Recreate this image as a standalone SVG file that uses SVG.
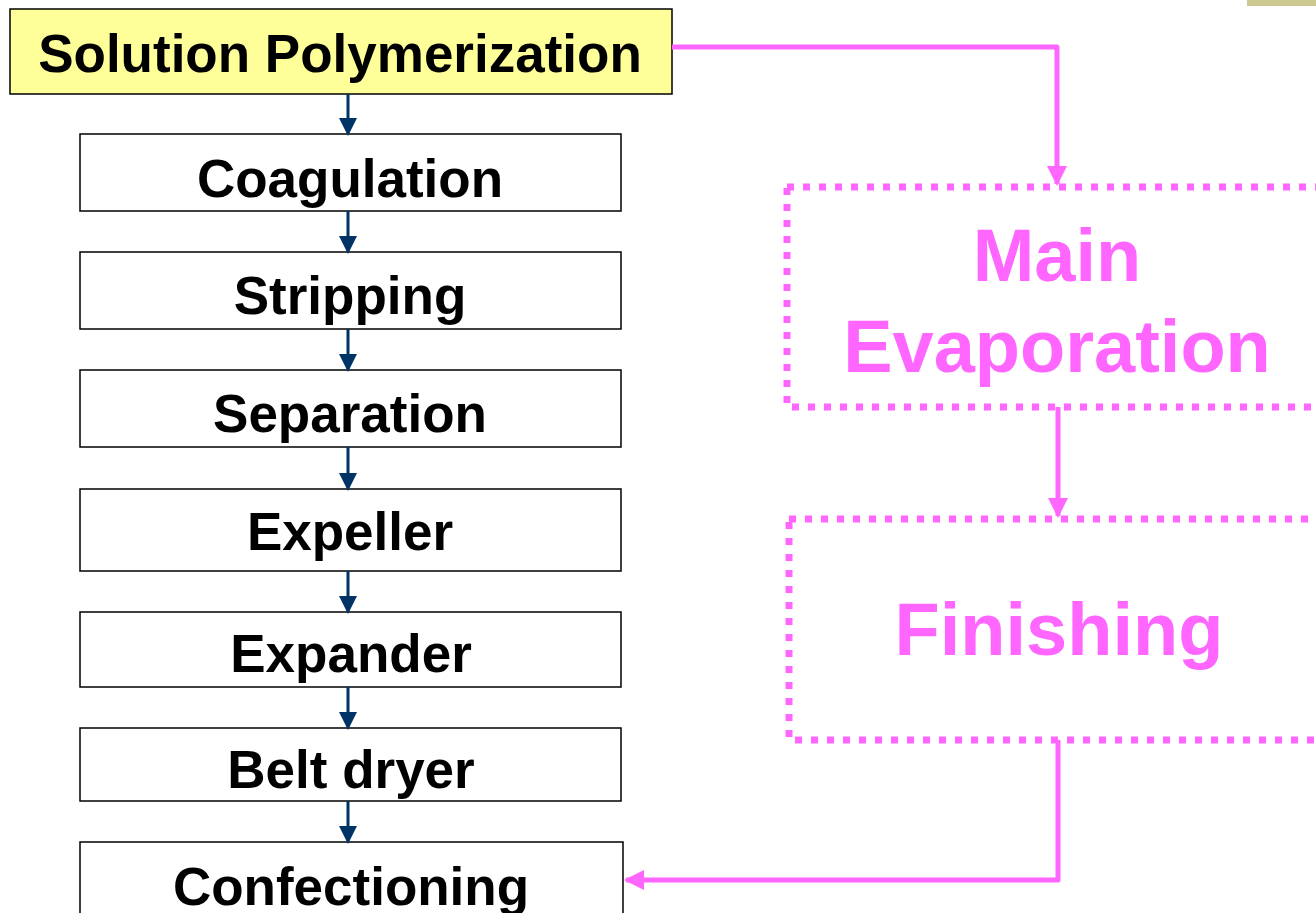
<svg xmlns="http://www.w3.org/2000/svg" width="1316" height="913" viewBox="0 0 1316 913">
<defs>
<style>
.box{fill:#fff;stroke:#000;stroke-width:1.5}
.lbl{font-family:"Liberation Sans",Arial,sans-serif;font-weight:bold;font-size:53px;fill:#000;text-anchor:middle}
.big{font-family:"Liberation Sans",Arial,sans-serif;font-weight:bold;font-size:74px;fill:#FF66FF;text-anchor:middle}
.dot{fill:none;stroke:#FF66FF;stroke-width:7;stroke-dasharray:7 9}
.blue{stroke:#003366;stroke-width:3;fill:none}
.pink{stroke:#FF66FF;stroke-width:5;fill:none;stroke-linejoin:round}
</style>
<marker id="ab" markerWidth="6" markerHeight="6" refX="5" refY="3" orient="auto" markerUnits="strokeWidth"><path d="M0,0 L6,3 L0,6 z" fill="#003366"/></marker>
<marker id="ap" markerWidth="4" markerHeight="4" refX="3.6" refY="2" orient="auto" markerUnits="strokeWidth"><path d="M0,0 L4,2 L0,4 z" fill="#FF66FF"/></marker>
</defs>
<rect x="1247" y="0" width="69" height="6" fill="#CCC993"/>
<g id="n-solution"><rect x="10" y="9" width="662" height="85" fill="#FFFF99" stroke="#000" stroke-width="1.5"/><text class="lbl" x="340" y="72">Solution Polymerization</text></g>
<g id="n-coagulation"><rect class="box" x="80" y="134" width="541" height="77"/><text class="lbl" x="350" y="197">Coagulation</text></g>
<g id="n-stripping"><rect class="box" x="80" y="252" width="541" height="77"/><text class="lbl" x="350" y="314">Stripping</text></g>
<g id="n-separation"><rect class="box" x="80" y="370" width="541" height="77"/><text class="lbl" x="350" y="432">Separation</text></g>
<g id="n-expeller"><rect class="box" x="80" y="489" width="541" height="82"/><text class="lbl" x="350" y="550">Expeller</text></g>
<g id="n-expander"><rect class="box" x="80" y="612" width="541" height="75"/><text class="lbl" x="351" y="672">Expander</text></g>
<g id="n-beltdryer"><rect class="box" x="80" y="728" width="541" height="73"/><text class="lbl" x="351" y="788">Belt dryer</text></g>
<g id="n-confectioning"><rect class="box" x="80" y="842" width="543" height="80"/><text class="lbl" x="351" y="905">Confectioning</text></g>
<g id="n-main"><rect class="dot" x="787" y="187" width="560" height="220"/><text class="big" x="1057" y="281">Main</text><text class="big" x="1057" y="372">Evaporation</text></g>
<g id="n-finishing"><rect class="dot" x="789" y="519" width="560" height="221"/><text class="big" x="1059" y="655">Finishing</text></g>
<g id="connectors">
<path class="blue" d="M348,94 V133" marker-end="url(#ab)"/>
<path class="blue" d="M348,211 V251" marker-end="url(#ab)"/>
<path class="blue" d="M348,329 V369" marker-end="url(#ab)"/>
<path class="blue" d="M348,447 V488" marker-end="url(#ab)"/>
<path class="blue" d="M348,571 V611" marker-end="url(#ab)"/>
<path class="blue" d="M348,687 V727" marker-end="url(#ab)"/>
<path class="blue" d="M348,801 V841" marker-end="url(#ab)"/>
<path class="pink" d="M672,47 H1057 V184" marker-end="url(#ap)"/>
<path class="pink" d="M1058,407 V516" marker-end="url(#ap)"/>
<path class="pink" d="M1058,740 V880 H626" marker-end="url(#ap)"/>
</g>
</svg>
